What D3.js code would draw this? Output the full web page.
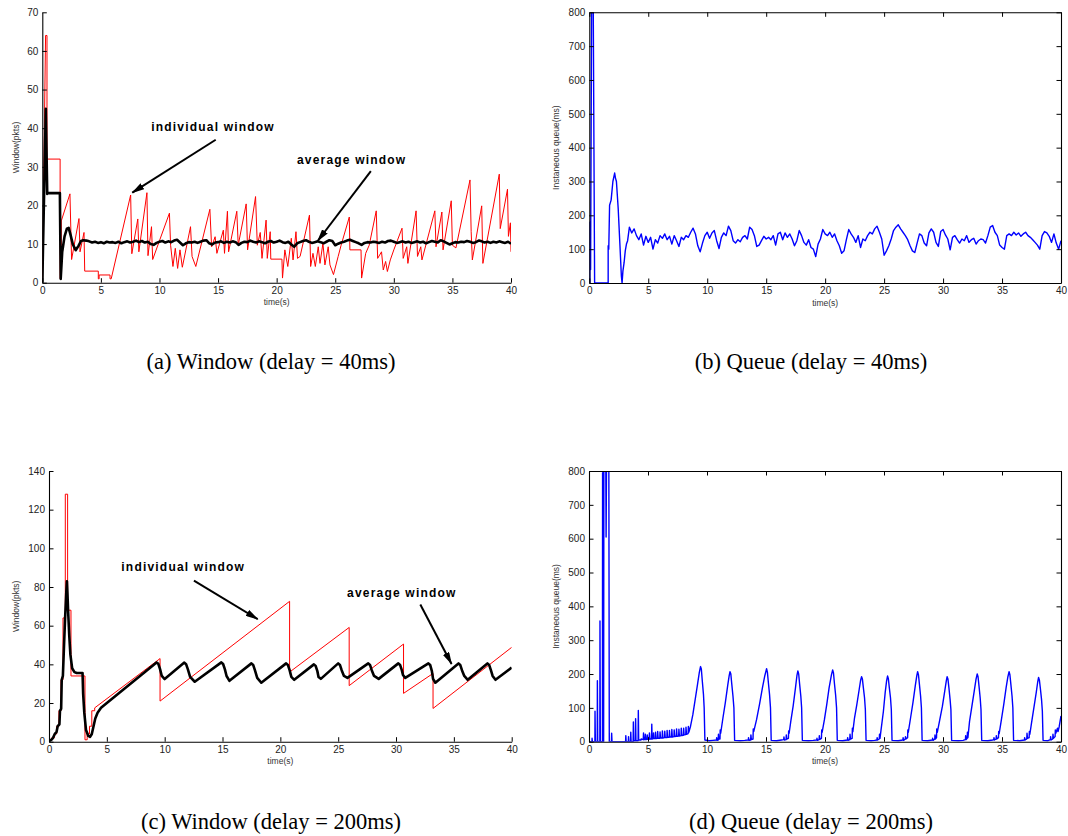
<!DOCTYPE html>
<html>
<head>
<meta charset="utf-8">
<script src="https://cdn.jsdelivr.net/npm/d3@7"></script>
<style>
body { margin: 0; background: #fff; }
svg text { font-family: "Liberation Sans", Arial, sans-serif; }
.cap { font-family: "Liberation Serif", "DejaVu Serif", serif; font-size: 22.5px; fill: #000; }
.note { font-weight: bold; font-size: 12px; letter-spacing: 1.2px; fill: #000; }
.tick text { font-size: 10px; fill: #222; }
.axlabel { font-size: 8.5px; fill: #333; }
</style>
</head>
<body>
<svg id="fig" width="1068" height="836"></svg>
<script>
// tick labels
const timeTicks = [0, 5, 10, 15, 20, 25, 30, 35, 40];
const winTicksA = [0, 10, 20, 30, 40, 50, 60, 70];
const winTicksC = [0, 20, 40, 60, 80, 100, 120, 140];
const queueTicks = [0, 100, 200, 300, 400, 500, 600, 700, 800];

const captions = ['(a) Window (delay = 40ms)', '(b) Queue (delay = 40ms)',
                  '(c) Window (delay = 200ms)', '(d) Queue (delay = 200ms)'];

// (a) individual window, delay 40ms  [time, pkts]
const indivWinA = [[0,0],[0.28,64],[0.40,64],[0.40,32],[1.52,32],[1.52,1],[1.62,1],[1.62,16],[2.36,23],[2.50,6],
  [3.13,16.6],[3.22,8],[3.56,13],[3.62,3],[4.78,3],[4.78,1],[4.85,1],[4.85,2],[5.78,2],[5.78,1],[5.88,1],
  [7.54,22.7],[7.64,7.5],[8.15,16.5],[8.24,8],[8.93,23.3],[9.02,7],[9.32,14.5],[9.42,6],[10.85,18],[10.95,9.7],
  [11.15,4.2],[11.35,8.9],[11.55,3.7],[11.75,8.5],[11.95,4],[12.65,14.5],[12.78,6.8],[13.1,4.2],[14.3,19],
  [14.45,9.3],[14.75,11.9],[14.9,7.6],[15.45,13.6],[15.55,7.6],[15.8,18.5],[15.9,8],[16.6,18.5],[16.72,9.7],
  [17.4,20.4],[17.52,8.5],[18.2,22.3],[18.35,9.7],[18.6,13],[18.75,6.3],[19.1,16.2],[19.2,6.3],[19.45,13.2],
  [19.5,6.1],[20.45,6.1],[20.5,1.2],[20.7,8.5],[20.95,4.2],[21.25,11.5],[21.4,5.9],[21.65,13.2],[21.78,6.3],
  [22.0,6.8],[22.8,17.5],[22.9,4.2],[23.1,7.6],[23.3,4.2],[23.55,9.3],[23.7,5],[23.95,10.2],[24.12,4.6],
  [24.4,9.3],[24.55,4.6],[24.85,2.1],[25.25,6.8],[25.5,9.7],[26.2,17],[26.25,8.5],[27.2,8.5],[27.25,1.2],
  [27.6,7.6],[27.9,9.7],[28.5,18.6],[28.62,6.3],[28.95,8],[29.1,3.3],[29.3,5.5],[29.45,2.9],[29.7,5.9],
  [30.0,8.5],[30.7,14.1],[30.8,6.3],[31.1,9.3],[31.2,5],[31.9,18.6],[32.02,6.8],[32.3,9.3],[32.4,5.9],
  [33.5,18.6],[33.6,9.3],[34.1,18.3],[34.2,8.5],[34.9,21.2],[35.0,9.7],[35.3,9],[36.5,26.6],[36.6,13.2],
  [36.7,5.9],[37.5,19.9],[37.6,5],[39.0,28.1],[39.08,14],[39.7,24.2],[39.78,12],[39.95,15.5],[40,8]];

// (a) average window: start-up, then samples every 0.25 s from 3.5 s
const avgWinAStart = [[0,0],[0.3,45],[0.42,23],[0.5,23.2],[1.5,23.2],[1.57,1],[1.7,8],[1.9,12],[2.1,14],
  [2.25,14.2],[2.4,12.5],[2.6,10],[2.85,8.4],[3.1,9.6],[3.3,10.8]];
const avgWinA = [11, 10.9, 10.7, 10.4, 10.6, 10.3, 10.5, 10.2, 10.6, 10.4,
  10.5, 10.3, 10.6, 10.2, 10.5, 10.7, 10.4, 10.6, 10.9, 10.5,
  10.8, 10.4, 10.6, 10.0, 9.8, 10.3, 10.6, 10.8, 10.4, 10.7,
  10.5, 10.9, 11.1, 10.4, 9.7, 10.2, 10.5, 10.4, 10.6, 10.3,
  10.6, 10.9, 11.0, 10.2, 9.9, 10.4, 10.5, 10.7, 10.3, 10.6,
  10.4, 10.7, 10.5, 9.8, 10.3, 10.6, 10.5, 10.9, 10.6, 10.4,
  10.7, 10.5, 10.2, 10.6, 10.8, 10.4, 10.6, 10.9, 10.5, 10.3,
  10.6, 9.9, 9.3, 10.2, 10.5, 10.8, 11.0, 10.6, 10.3, 10.5,
  10.7, 10.5, 10.2, 10.6, 11.0, 10.8, 9.7, 10.1, 10.4, 10.6,
  10.9, 11.1, 10.8, 10.5, 10.2, 9.8, 10.3, 10.5, 10.4, 10.6,
  10.5, 10.3, 10.6, 10.4, 10.8, 10.9, 10.6, 10.3, 10.5, 10.7,
  10.4, 10.6, 10.3, 10.5, 10.7, 10.4, 10.6, 10.2, 10.5, 10.8,
  10.6, 10.4, 11.0, 10.7, 10.3, 9.9, 10.2, 10.5, 10.4, 10.6,
  10.5, 10.8, 10.6, 10.3, 10.5, 10.9, 10.7, 10.4, 10.6, 10.3,
  10.6, 10.4, 10.7, 10.5, 10.3, 10.6, 10.1];

// (b) queue, delay 40ms: start-up, then samples every 0.2 s from 3.4 s
const queueBStart = [[0,0],[0.05,0],[0.05,180],[0.07,90],[0.09,150],[0.11,40],[0.2,850],[0.33,850],[0.45,0],
  [1.6,0],[1.6,110],[1.65,100],[1.72,230],[1.85,245],[2.0,300],[2.15,325],[2.22,310],[2.3,300],[2.45,220],
  [2.6,110],[2.72,20],[2.78,0],[2.85,35],[2.95,60],[3.05,95],[3.15,115],[3.25,125]];
const queueB = [165, 148, 160, 140, 128, 145, 112, 138, 120, 135,
  100, 128, 118, 140, 132, 145, 128, 138, 115, 140,
  125, 108, 135, 128, 140, 135, 150, 162, 145, 110,
  92, 118, 140, 150, 132, 148, 155, 125, 102, 135,
  148, 140, 168, 155, 125, 118, 128, 122, 135, 140,
  130, 165, 158, 140, 108, 112, 125, 138, 130, 135,
  128, 140, 112, 145, 150, 128, 148, 135, 145, 130,
  110, 125, 155, 140, 120, 112, 128, 105, 100, 78,
  115, 130, 158, 145, 140, 150, 135, 145, 125, 110,
  88, 95, 128, 158, 145, 135, 120, 140, 105, 130,
  125, 140, 150, 145, 160, 168, 150, 130, 82, 95,
  110, 130, 155, 165, 172, 160, 150, 140, 128, 110,
  95, 90, 118, 145, 140, 118, 110, 148, 160, 150,
  120, 108, 152, 158, 142, 130, 98, 135, 140, 128,
  118, 130, 125, 140, 120, 128, 132, 115, 125, 130,
  128, 118, 140, 165, 170, 150, 140, 112, 105, 100,
  140, 145, 140, 150, 142, 148, 138, 145, 150, 140,
  135, 128, 120, 112, 100, 140, 152, 148, 138, 120,
  145, 118, 100, 125];

// (c) individual window, delay 200ms
const indivWinC = [[0,0],[0.05,1],[0.23,1],[0.23,2],[0.46,2],[0.46,4],[0.66,4],[0.66,8],[0.86,8],[0.86,16],
  [1.04,16],[1.04,32],[1.21,32],[1.21,64],[1.41,64],[1.41,128],[1.61,128],[1.61,68],[1.9,68],[1.9,34],
  [3.11,34],[3.11,1],[3.3,1],[3.3,4],[3.5,4],[3.5,8],[3.7,8],[3.7,16],[3.95,16],[3.95,17.5],[9.6,43],
  [9.6,21],[20.8,72.6],[20.8,36],[25.95,59.1],[25.95,29],[30.65,50.5],[30.65,25],[33.2,35.3],[33.2,17.2],
  [40,48.8]];

// (c) average window
const avgWinC = [[0,0],[0.2,1],[0.35,2],[0.5,4],[0.65,5],[0.75,8],[0.9,9],[0.95,16],[1.05,17],[1.1,32],
  [1.2,34],[1.3,50],[1.4,65],[1.5,78],[1.55,83],[1.6,76],[1.65,68],[1.75,55],[1.85,45],[2.0,38],[2.2,36],
  [2.4,35.5],[2.9,35.5],[2.95,25],[3.05,15],[3.2,6],[3.4,3],[3.55,2.5],[3.7,4],[3.85,8],[4.0,12],[4.2,15],
  [4.5,17.5],[5.0,20],
  [9.3,41],[9.45,40.3],[9.6,37.5],[9.75,34],[10.0,32.4],
  [11.7,40.9],[11.85,40.1],[12.0,37.5],[12.2,33.5],[12.6,31],
  [14.9,41],[15.05,40.2],[15.2,37.5],[15.35,34],[15.6,31.5],
  [17.5,40.5],[17.65,39.7],[17.8,37],[18.0,33],[18.35,30.5],
  [20.5,40.5],[20.65,39.7],[20.8,37],[20.95,33.5],[21.2,32],
  [22.9,40],[23.05,39.2],[23.2,36.5],[23.3,33.5],[23.5,32.5],
  [25.0,40.5],[25.15,39.7],[25.3,37],[25.5,34],[25.8,33],
  [27.6,40.5],[27.75,39.7],[27.9,37],[28.1,34],[28.5,32.5],
  [30.2,40.5],[30.35,39.7],[30.5,37],[30.6,34.5],[30.8,33],
  [32.8,40.5],[32.95,39.7],[33.1,36.5],[33.2,32.5],[33.4,30.5],
  [35.4,40.5],[35.55,39.7],[35.7,37],[35.9,34],[36.2,32],
  [37.9,40.5],[38.05,39.7],[38.2,37],[38.35,34],[38.6,32],
  [40,38.3]];

// (d) queue, delay 200ms
const queueD = [[0,0],[0.25,0],[0.26,10],[0.29,0],[0.5,0],[0.51,90],[0.54,0],[0.7,0],[0.71,180],[0.74,0],
  [0.92,0],[0.93,357],[0.96,0],[1.14,0],[1.15,795],[1.19,0],[1.24,0],[1.26,850],[1.42,850],[1.45,605],
  [1.49,850],[1.68,850],[1.72,0],[1.9,0],[1.92,25],[1.95,0],[3.1,0],[3.12,18],[3.15,0],[3.33,0],[3.35,15],
  [3.38,0],[3.52,0],[3.54,28],[3.57,0],[3.74,0],[3.76,58],[3.79,3],[3.93,3],[3.95,68],[3.98,3],[4.16,3],
  [4.18,92],[4.21,5],[4.4,5],[4.42,8],[4.6,6],[4.62,26],[4.66,6],[4.76,6],[4.78,22],[4.82,6],[4.92,7],
  [4.94,20],[4.98,7],[5.1,7],[5.12,26],[5.16,8],[5.3,8],[5.32,52],[5.35,8],[5.45,9],[5.47,26],[5.5,9],
  [5.62,9],[5.64,28],[5.68,9],[5.8,10],[5.82,30],[5.86,10],[6.0,10],[6.02,29],[6.06,11],[6.2,11],[6.22,32],
  [6.26,11],[6.4,12],[6.42,31],[6.46,12],[6.6,12],[6.62,33],[6.66,13],[6.8,13],[6.82,33],[6.86,14],[7.0,14],
  [7.02,36],[7.06,14],[7.2,15],[7.22,35],[7.26,15],[7.4,16],[7.42,38],[7.46,16],[7.6,17],[7.62,37],[7.66,17],
  [7.8,18],[7.82,40],[7.86,18],[8.0,19],[8.02,40],[8.06,20],[8.2,21],[8.22,43],[8.26,22],[8.4,24],[8.42,45],
  [8.46,28],[8.6,45],
  [8.8,80],[9.0,125],[9.2,170],[9.35,205],[9.45,222],[9.52,215],[9.6,180],[9.7,140],[9.76,100],[9.82,5],
  [10.2,3],[10.5,4],[10.8,5],[10.82,12],[10.86,4],[10.95,5],[10.97,22],[11.0,8],[11.1,8],[11.12,35],[11.16,25],
  [11.35,70],[11.55,115],[11.75,165],[11.88,195],[11.95,207],[12.02,200],[12.1,170],[12.2,135],[12.28,100],
  [12.34,4],[12.8,3],[13.2,4],[13.5,5],[13.52,12],[13.56,4],[13.7,5],[13.72,20],[13.76,6],[13.9,8],[13.92,38],
  [13.96,30],
  [14.2,65],[14.45,110],[14.7,160],[14.9,195],[15.05,216],[15.12,205],[15.2,175],[15.3,140],[15.38,100],
  [15.44,4],[15.9,3],[16.3,5],[16.5,6],[16.52,14],[16.56,5],[16.7,6],[16.72,20],[16.76,8],[16.9,10],[16.92,32],
  [16.96,25],
  [17.1,60],[17.3,105],[17.5,160],[17.62,195],[17.7,209],[17.77,200],[17.85,170],[17.95,135],[18.02,100],
  [18.08,4],[18.6,3],[19.0,4],[19.3,5],[19.32,10],[19.36,4],[19.5,6],[19.52,18],[19.56,7],[19.7,10],[19.72,35],
  [19.76,28],
  [19.95,65],[20.15,110],[20.35,160],[20.55,198],[20.65,212],[20.72,203],[20.8,172],[20.9,138],[20.98,100],
  [21.04,4],[21.5,3],[21.9,5],[21.92,12],[21.96,4],[22.1,6],[22.12,22],[22.16,8],[22.3,10],[22.32,40],[22.36,30],
  [22.5,70],[22.7,110],[22.9,155],[23.02,182],[23.1,192],[23.17,185],[23.25,160],[23.35,130],[23.42,95],
  [23.48,4],[23.9,3],[24.2,4],[24.4,5],[24.42,12],[24.46,5],[24.6,8],[24.62,22],[24.66,10],
  [24.75,35],[24.95,90],[25.1,145],[25.22,180],[25.3,194],[25.37,186],[25.45,160],[25.55,130],[25.62,95],
  [25.68,4],[26.2,3],[26.6,5],[26.62,12],[26.66,4],[26.8,8],[26.82,15],[26.86,8],[27.0,12],[27.02,35],[27.06,28],
  [27.25,70],[27.45,115],[27.65,165],[27.78,195],[27.85,207],[27.92,198],[28.0,170],[28.1,135],[28.17,100],
  [28.23,4],[28.7,3],[29.1,5],[29.12,10],[29.16,4],[29.3,8],[29.32,20],[29.36,8],[29.45,12],[29.47,38],[29.52,28],
  [29.7,60],[29.95,105],[30.15,150],[30.28,180],[30.35,192],[30.42,185],[30.5,160],[30.6,125],[30.67,95],
  [30.73,4],[31.3,3],[31.7,4],[31.9,6],[31.92,18],[31.96,6],[32.05,10],[32.07,28],[32.11,12],
  [32.25,60],[32.45,105],[32.65,150],[32.8,185],[32.9,200],[32.97,192],[33.05,165],[33.15,130],[33.22,95],
  [33.28,4],[33.8,3],[34.2,5],[34.3,6],[34.32,12],[34.36,5],[34.5,8],[34.52,18],[34.56,8],[34.7,12],[34.72,30],
  [34.76,24],
  [34.95,65],[35.15,110],[35.35,160],[35.5,192],[35.6,207],[35.67,198],[35.75,170],[35.85,135],[35.92,100],
  [35.98,4],[36.5,3],[36.9,5],[36.92,12],[36.96,5],[37.1,8],[37.12,25],[37.16,10],[37.3,12],[37.32,30],[37.36,22],
  [37.5,55],[37.7,100],[37.9,145],[38.02,175],[38.1,190],[38.17,182],[38.25,158],[38.35,125],[38.42,90],
  [38.48,4],[38.9,3],[39.1,6],[39.12,15],[39.16,5],[39.3,8],[39.32,22],[39.36,10],[39.5,15],[39.52,35],
  [39.56,25],[39.7,40],[39.75,30],[39.85,45],[40,76]];

// sampled series -> [time, value]
const sampled = (start, step, vals) => vals.map((v, i) => [start + i * step, v]);
const avgA = avgWinAStart.concat(sampled(3.5, 0.25, avgWinA));
const queueBAll = queueBStart.concat(sampled(3.4, 0.2, queueB));

const svg = d3.select('#fig');
const defs = svg.append('defs');
defs.append('marker')
    .attr('id', 'head')
    .attr('viewBox', '0 0 13 7')
    .attr('refX', 12).attr('refY', 3.5)
    .attr('markerWidth', 13).attr('markerHeight', 7)
    .attr('markerUnits', 'userSpaceOnUse')
    .attr('orient', 'auto')
    .append('path')
    .attr('d', 'M0,0 L13,3.5 L0,7 Z')
    .attr('fill', '#000');

const panels = [
    { key: 'a', left: 42.3, right: 511, top: 12.3, bottom: 282.7, ymax: 70, yTicks: winTicksA,
      ylabel: 'Window(pkts)', labelX: 18.5, box: false,
      series: [{ data: indivWinA, color: '#ff0000', width: 1 }, { data: avgA, color: '#000', width: 2.6 }],
      notes: [{ text: 'individual window', at: [14.57, 39.3], from: [14.8, 37], to: [7.68, 23.3] },
              { text: 'average window', at: [26.4, 30.7], from: [28.04, 28.9], to: [23.5, 10.8] }] },
    { key: 'b', left: 589.3, right: 1061, top: 12.3, bottom: 283, ymax: 800, yTicks: queueTicks,
      ylabel: 'Instaneous queue(ms)', labelX: 558.5, box: true,
      series: [{ data: queueBAll, color: '#0000ff', width: 1.4 }], notes: [] },
    { key: 'c', left: 49, right: 511.7, top: 471, bottom: 741.7, ymax: 140, yTicks: winTicksC,
      ylabel: 'Window(pkts)', labelX: 18.5, box: false,
      series: [{ data: indivWinC, color: '#ff0000', width: 1 }, { data: avgWinC, color: '#000', width: 2.6 }],
      notes: [{ text: 'individual window', at: [11.6, 88.4], from: [12.53, 83.3], to: [18.04, 63.4] },
              { text: 'average window', at: [30.5, 75], from: [32.1, 71], to: [34.8, 40.2] }] },
    { key: 'd', left: 589, right: 1061, top: 471, bottom: 741.7, ymax: 800, yTicks: queueTicks,
      ylabel: 'Instaneous queue(ms)', labelX: 558.5, box: true,
      series: [{ data: queueD, color: '#0000ff', width: 1.4 }], notes: [] }
];

const captionPos = [[271, 369], [811, 369], [271, 829], [811, 829]];

function drawPanel(p) {
    const x = d3.scaleLinear().domain([0, 40]).range([p.left, p.right]);
    const y = d3.scaleLinear().domain([0, p.ymax]).range([p.bottom, p.top]);
    const g = svg.append('g');

    defs.append('clipPath').attr('id', 'clip-' + p.key)
        .append('rect')
        .attr('x', p.left).attr('y', p.top)
        .attr('width', p.right - p.left).attr('height', p.bottom - p.top);

    const line = d3.line().x(d => x(d[0])).y(d => y(d[1]));
    const plot = g.append('g').attr('clip-path', `url(#clip-${p.key})`);
    p.series.forEach(s => {
        plot.append('path')
            .datum(s.data)
            .attr('d', line)
            .attr('fill', 'none')
            .attr('stroke', s.color)
            .attr('stroke-width', s.width)
            .attr('stroke-linejoin', 'round');
    });

    // axes, ticks point inward like the matlab plots
    g.append('g')
        .attr('transform', `translate(0,${p.bottom})`)
        .call(d3.axisBottom(x).tickValues(timeTicks).tickSizeInner(-4.5).tickSizeOuter(0).tickPadding(4));
    g.append('g')
        .attr('transform', `translate(${p.left},0)`)
        .call(d3.axisLeft(y).tickValues(p.yTicks).tickSizeInner(-4.5).tickSizeOuter(0).tickPadding(4));

    if (p.box) {
        g.append('g')
            .attr('transform', `translate(0,${p.top})`)
            .call(d3.axisTop(x).tickValues(timeTicks).tickSizeInner(-4.5).tickSizeOuter(0).tickFormat(''));
        g.append('g')
            .attr('transform', `translate(${p.right},0)`)
            .call(d3.axisRight(y).tickValues(p.yTicks).tickSizeInner(-4.5).tickSizeOuter(0).tickFormat(''));
    }
    g.selectAll('.domain').attr('stroke', '#000').attr('stroke-width', 1.1);
    g.selectAll('.tick line').attr('stroke', '#000');

    g.append('text')
        .attr('class', 'axlabel')
        .attr('x', (p.left + p.right) / 2)
        .attr('y', p.bottom + 22.5)
        .attr('text-anchor', 'middle')
        .text('time(s)');
    g.append('text')
        .attr('class', 'axlabel')
        .attr('transform', `translate(${p.labelX},${(p.top + p.bottom) / 2}) rotate(-90)`)
        .attr('text-anchor', 'middle')
        .text(p.ylabel);

    p.notes.forEach(n => {
        g.append('text')
            .attr('class', 'note')
            .attr('x', x(n.at[0]))
            .attr('y', y(n.at[1]))
            .attr('text-anchor', 'middle')
            .text(n.text);
        g.append('line')
            .attr('x1', x(n.from[0])).attr('y1', y(n.from[1]))
            .attr('x2', x(n.to[0])).attr('y2', y(n.to[1]))
            .attr('stroke', '#000')
            .attr('stroke-width', 2)
            .attr('marker-end', 'url(#head)');
    });
}

panels.forEach(drawPanel);

svg.selectAll('text.cap')
    .data(captions)
    .enter().append('text')
    .attr('class', 'cap')
    .attr('x', (d, i) => captionPos[i][0])
    .attr('y', (d, i) => captionPos[i][1])
    .attr('text-anchor', 'middle')
    .text(d => d);
</script>
</body>
</html>
